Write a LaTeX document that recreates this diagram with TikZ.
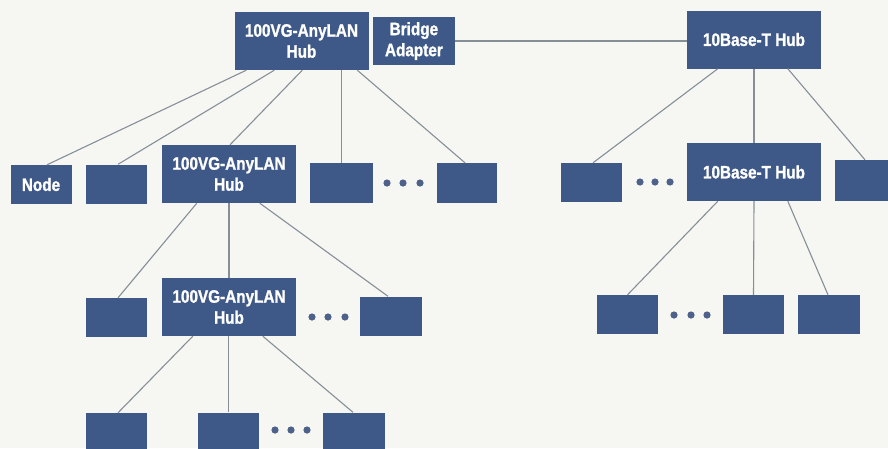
\documentclass[tikz,border=0pt]{standalone}
\usepackage{fontspec}
\setmainfont{Liberation Sans}[FakeStretch=0.85, BoldFeatures={FakeBold=1.2}]
\usetikzlibrary{positioning,calc}

\definecolor{boxblue}{RGB}{62,89,136}
\definecolor{wiregray}{RGB}{134,143,152}
\definecolor{paper}{RGB}{246,247,243}
\definecolor{dotblue}{RGB}{78,97,138}

\begin{document}
\begin{tikzpicture}[
    x=1pt, y=-1pt,
    hub/.style={rectangle, fill=boxblue, text=white, align=center, inner sep=0pt,
        minimum width=134pt, minimum height=58pt,
        font=\fontsize{18}{21}\selectfont\bfseries},
    station/.style={rectangle, fill=boxblue, text=white, inner sep=0pt,
        minimum width=61pt, minimum height=39pt,
        font=\fontsize{18}{21}\selectfont\bfseries},
    wire/.style={draw=wiregray, line width=1.1pt}
]
    \useasboundingbox (0,0) rectangle (888,448);
    \clip (0,0) rectangle (888,448);
    \fill[paper] (0,0) rectangle (888,448);

    % backbone
    \node[hub] (vghub) at (301.5,41) {100VG-AnyLAN\\Hub};
    \node[hub, minimum width=82pt, minimum height=48pt, right=4pt of vghub] (bridge) {Bridge\\Adapter};
    \node[hub] (tbhub) at (754,39.5) {10Base-T Hub};

    % second level
    \node[station] (node) at (41,184.5) {Node};
    \node[station] (stb) at (116.5,184) {};
    \node[hub] (vghubb) at (229,174) {100VG-AnyLAN\\Hub};
    \node[station, minimum width=63pt, minimum height=40pt] (std) at (341.5,183) {};
    \node[station, minimum width=60pt, minimum height=40pt] (ste) at (467,183) {};
    \node[station] (stf) at (591.5,182.5) {};
    \node[hub] (tbhubb) at (754,172) {10Base-T Hub};
    \node[station, minimum width=62pt, minimum height=41pt] (stg) at (866,180.5) {};

    % third level
    \node[station] (sth) at (116.5,317.5) {};
    \node[hub] (vghubc) at (229,307) {100VG-AnyLAN\\Hub};
    \node[station, minimum width=62pt] (sti) at (391,316) {};
    \node[station] (stj) at (627.5,314.5) {};
    \node[station] (stk) at (753.5,314.5) {};
    \node[station, minimum width=62pt] (stl) at (829,314.5) {};

    % bottom level
    \node[station] (stm) at (116.5,432.5) {};
    \node[station] (stn) at (228.5,432) {};
    \node[station, minimum width=62pt] (sto) at (354,432) {};

    % ellipses
    \foreach \x/\y in {387/183, 403/183, 420/183, 640/182, 655/182, 670/182,
                       312/317, 328/317, 345/317, 674/315, 691/315, 707/315,
                       275/430, 291/430, 307/430}
        \fill[dotblue] (\x,\y) circle[radius=3.6pt];

    % links
    \draw[wire] ([xshift=12pt]vghub.south west) -- ([xshift=6pt]node.north);
    \draw[wire] ([xshift=40pt]vghub.south west) -- ([xshift=1.5pt]stb.north);
    \draw[wire] ([xshift=68pt]vghub.south west) -- ([xshift=1pt]vghubb.north);
    \draw[wire] (std.north |- vghub.south) -- (std.north);
    \draw[wire] ([xshift=123pt]vghub.south west) -- ([xshift=-2pt]ste.north);
    \draw[wire] (bridge.east) -- (bridge.east -| tbhub.west);

    \draw[wire] ([xshift=31pt]tbhub.south west) -- ([xshift=1.5pt]stf.north);
    \draw[wire] (tbhub.south) -- (tbhubb.north);
    \draw[wire] ([xshift=101pt]tbhub.south west) -- ([xshift=-1pt]stg.north);

    \draw[wire] ([xshift=31pt]tbhubb.south west) -- (stj.north);
    \draw[wire] (tbhubb.south) -- (stk.north);
    \draw[wire] ([xshift=101pt]tbhubb.south west) -- ([xshift=-1pt]stl.north);

    \draw[wire] ([xshift=35pt]vghubb.south west) -- ([xshift=1.5pt]sth.north);
    \draw[wire] (vghubb.south) -- (vghubc.north);
    \draw[wire] ([xshift=98pt]vghubb.south west) -- ([xshift=-3pt]sti.north);

    \draw[wire] ([xshift=31pt]vghubc.south west) -- ([xshift=1.5pt]stm.north);
    \draw[wire] (vghubc.south -| stn.north) -- (stn.north);
    \draw[wire] ([xshift=101pt]vghubc.south west) -- ([xshift=-1pt]sto.north);
\end{tikzpicture}
\end{document}
